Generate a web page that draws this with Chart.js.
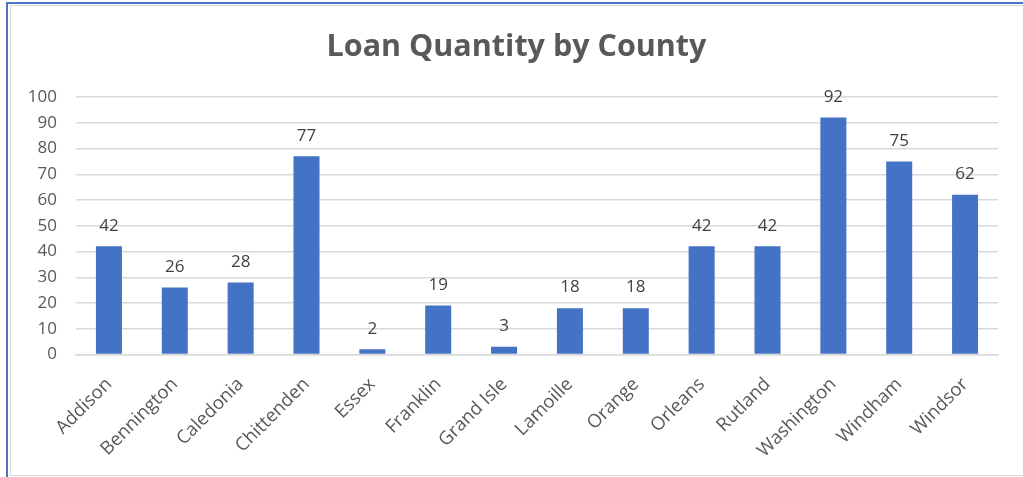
<!DOCTYPE html>
<html>
<head>
<meta charset="utf-8">
<script src="https://cdn.jsdelivr.net/npm/chart.js@4.4.1/dist/chart.umd.min.js"></script>
<style>
  html, body { margin: 0; padding: 0; background: #fff; overflow: hidden; }
  #wrap { position: relative; width: 1023px; height: 477px; }
  #chart { position: absolute; left: 0; top: 0; }
  .edge { position: absolute; pointer-events: none; }
</style>
</head>
<body>
<div id="wrap">
  <canvas id="chart" width="1023" height="477"></canvas>
  <div class="edge" style="left:6px;top:2px;width:1017px;height:2px;background:#4a74c6"></div>
  <div class="edge" style="left:6px;top:2px;width:2px;height:475px;background:#4a74c6"></div>
  <div class="edge" style="left:10px;top:5px;width:1013px;height:1px;background:#d9d9d9"></div>
  <div class="edge" style="left:10px;top:5px;width:1px;height:471px;background:#d9d9d9"></div>
  <div class="edge" style="left:10px;top:475px;width:1013px;height:1px;background:#d9d9d9"></div>
</div>
<script>
(function () {
    const counties = ['Addison', 'Bennington', 'Caledonia', 'Chittenden', 'Essex', 'Franklin', 'Grand Isle',
        'Lamoille', 'Orange', 'Orleans', 'Rutland', 'Washington', 'Windham', 'Windsor'];
    const loanCounts = [42, 26, 28, 77, 2, 19, 3, 18, 18, 42, 42, 92, 75, 62];
    const yMin = 0, yMax = 100, yStep = 10;

    const textGray = '#595959';
    const gridGray = '#d9d9d9';
    const barBlue = '#4472C4';

    // value labels above each bar
    const valueLabels = {
        id: 'valueLabels',
        afterDatasetsDraw(chart) {
            const ctx = chart.ctx;
            const meta = chart.getDatasetMeta(0);
            ctx.save();
            ctx.font = '17px "Open Sans"';
            ctx.fillStyle = '#404040';
            ctx.textAlign = 'center';
            ctx.textBaseline = 'bottom';
            meta.data.forEach((bar, i) => {
                ctx.fillText(String(loanCounts[i]), bar.x, bar.y - 12);
            });
            ctx.restore();
        }
    };

    const canvas = document.getElementById('chart');
    new Chart(canvas.getContext('2d'), {
        type: 'bar',
        data: {
            labels: counties,
            datasets: [{
                label: 'Loan Quantity',
                data: loanCounts,
                backgroundColor: barBlue,
                borderWidth: 0,
                categoryPercentage: 0.79,
                barPercentage: 0.5
            }]
        },
        options: {
            responsive: false,
            animation: false,
            layout: { padding: { left: 10, right: 0, top: 0, bottom: 0 } },
            plugins: {
                legend: { display: false },
                tooltip: { enabled: false },
                title: {
                    display: true,
                    text: 'Loan Quantity by County',
                    color: textGray,
                    font: { family: 'Open Sans', size: 30.5, weight: 'bold', lineHeight: 1.2 },
                    padding: { top: 29, bottom: 31.4 }
                }
            },
            scales: {
                x: {
                    grid: { display: false, drawTicks: false },
                    border: { display: true, color: gridGray, width: 1.5 },
                    ticks: {
                        color: textGray,
                        font: { family: 'Open Sans', size: 18.5 },
                        maxRotation: 45,
                        minRotation: 45,
                        padding: 19,
                        autoSkip: false
                    },
                    afterFit(scale) { scale.height = 122.5; }
                },
                y: {
                    min: yMin,
                    max: yMax,
                    grid: { color: gridGray, lineWidth: 1.5, drawTicks: false },
                    border: { display: false },
                    ticks: {
                        stepSize: yStep,
                        color: textGray,
                        font: { family: 'Open Sans', size: 17 },
                        padding: 19
                    },
                    afterFit(scale) { scale.width = 66; }
                },
                yRight: {
                    position: 'right',
                    display: true,
                    grid: { display: false, drawTicks: false },
                    border: { display: false },
                    ticks: { display: false },
                    afterFit(scale) { scale.width = 25; }
                }
            }
        },
        plugins: [valueLabels]
    });
})();
</script>
</body>
</html>
